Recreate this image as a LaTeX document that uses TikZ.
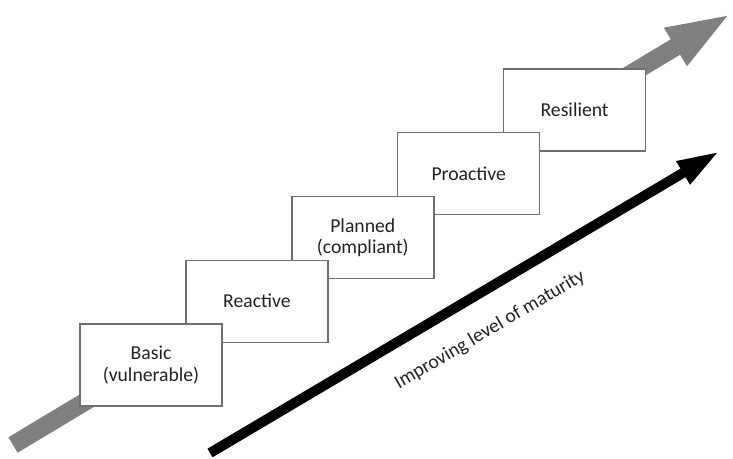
\documentclass[tikz,border=0pt]{standalone}
\usepackage{fontspec}
\setmainfont{Carlito}
\usetikzlibrary{arrows.meta}
\definecolor{boxline}{HTML}{6E6E6E}
\definecolor{arrowgray}{HTML}{808080}
\definecolor{txt}{HTML}{222222}
\begin{document}
\begin{tikzpicture}[x=1pt,y=-1pt,
  stage/.style={draw=boxline, line width=1.4pt, fill=white, minimum width=142pt,
    minimum height=82pt, inner sep=0pt, align=center, text=txt,
    font=\fontsize{19.7}{21.5}\selectfont},
  grayarrow/.style={draw=arrowgray, line width=18pt,
    -{Triangle[length=66pt,width=39pt]}, arrowgray},
  blackarrow/.style={draw=black, line width=10pt,
    -{Triangle[length=43pt,width=24pt]}},
  lbl/.style={text=txt, font=\fontsize{19.7}{21.5}\selectfont, inner sep=0pt}]
\useasboundingbox (0,0) rectangle (733,458);
\coordinate (g0) at (13,445);
\coordinate (g1) at (732,13);
\draw[grayarrow] (g0) -- (g1);
\node[stage] (resilient) at (574.6,110) {Resilient};
\node[stage] (proactive) at (468.7,173.75) {Proactive};
\node[stage] (planned) at (362.8,237.5) {Planned\\(compliant)};
\node[stage] (reactive) at (256.9,301.25) {Reactive};
\node[stage] (basic) at (151,365) {Basic\\(vulnerable)};
\coordinate (b0) at (210,453);
\coordinate (b1) at (720,151);
\draw[blackarrow] (b0) -- (b1);
\node[lbl, rotate=30.4] (maturity) at (490,330) {Improving level of maturity};
\end{tikzpicture}
\end{document}
